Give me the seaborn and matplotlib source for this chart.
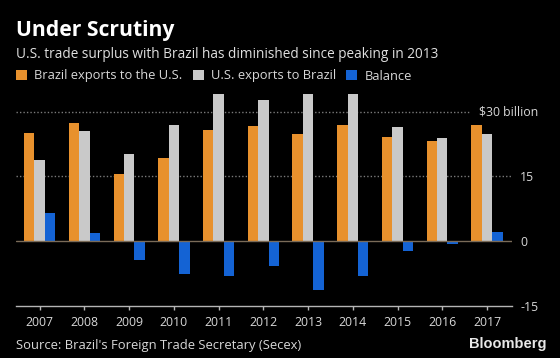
import pandas as pd
import seaborn as sns
import matplotlib.pyplot as plt
import matplotlib.transforms as mtransforms
from matplotlib.patches import Patch

# values in $ billion
years = ['2007', '2008', '2009', '2010', '2011', '2012', '2013', '2014', '2015', '2016', '2017']
brazil_exports = [25.1, 27.4, 15.6, 19.3, 25.8, 26.7, 24.9, 27.0, 24.1, 23.2, 26.9]
us_exports = [18.7, 25.6, 20.1, 27.0, 34.0, 32.7, 36.3, 35.0, 26.5, 23.9, 24.9]
balance = [6.4, 1.8, -4.4, -7.7, -8.2, -5.9, -11.4, -8.0, -2.4, -0.6, 2.0]

series = ['Brazil exports to the U.S.', 'U.S. exports to Brazil', 'Balance']
colors = ['#E8912D', '#C9C9C9', '#1463D4']
yticks = [-15, 0, 15, 30]

df = pd.DataFrame({'year': years, series[0]: brazil_exports,
                   series[1]: us_exports, series[2]: balance})
df = df.melt(id_vars='year', var_name='series', value_name='value')

sns.set_theme(style='ticks', rc={'figure.facecolor': 'black', 'axes.facecolor': 'black',
                                 'savefig.facecolor': 'black'})
plt.rcParams['font.family'] = ['Open Sans', 'DejaVu Sans']
txt = '#d8d8d8'

fig = plt.figure(figsize=(5.6, 3.58), dpi=100)
ax = fig.add_axes([16 / 560, 1 - 305.7 / 358, 496 / 560, 211.7 / 358])

sns.barplot(data=df, x='year', y='value', hue='series', hue_order=series,
            palette=colors, width=0.7, gap=0, saturation=1, legend=False,
            linewidth=0, ax=ax, zorder=3)

ax.set_ylim(-15, 34.1)
ax.set_xlim(-0.53, 10.56)
ax.set_xlabel('')
ax.set_ylabel('')

# grid and zero line
ax.axhline(15, color='#7a7a7a', lw=1, ls=(0, (1, 1.5)), zorder=1)
ax.axhline(30, xmax=(470 - 16) / 496, color='#7a7a7a', lw=1, ls=(0, (1, 1.5)), zorder=1)
ax.axhline(0, color='#7a6b58', lw=1, zorder=4)

for s in ['top', 'left', 'right']:
    ax.spines[s].set_visible(False)
ax.spines['bottom'].set_color('#b5b5b5')
ax.spines['bottom'].set_linewidth(1)

ax.yaxis.tick_right()
ax.set_yticks(yticks)
ax.set_yticklabels(['-15', '0', '15', ''])
ax.tick_params(axis='y', length=0, pad=6, labelsize=8.8, labelcolor=txt)
ax.tick_params(axis='x', length=3, width=1, color='#b5b5b5', pad=4.5,
               labelsize=8.8, labelcolor=txt)
lab_tr = mtransforms.blended_transform_factory(fig.transFigure, ax.transData)
ax.text(538 / 560, 30, '$30 billion', transform=lab_tr,
        ha='right', va='center', fontsize=8.8, color=txt)

fig.text(16 / 560, 1 - 36 / 358, 'Under Scrutiny', fontsize=15.2, fontweight='bold',
         color='white', ha='left', va='baseline')
fig.text(16 / 560, 1 - 58 / 358, 'U.S. trade surplus with Brazil has diminished since peaking in 2013',
         fontsize=9.8, color='#e0e0e0', ha='left', va='baseline')

handles = [Patch(facecolor=c, edgecolor='none') for c in colors]
fig.legend(handles, series, loc='center left', bbox_to_anchor=(16 / 560, 1 - 76 / 358),
           ncol=3, frameon=False, fontsize=9.3, labelcolor=txt,
           handlelength=0.85, handleheight=0.85, handletextpad=0.55,
           columnspacing=0.8, borderpad=0, borderaxespad=0)

fig.text(16 / 560, 1 - 349 / 358, "Source: Brazil's Foreign Trade Secretary (Secex)",
         fontsize=9.4, color=txt, ha='left', va='baseline')
fig.text(546 / 560, 1 - 348 / 358, 'Bloomberg', fontsize=10.5, fontweight='bold',
         family='Liberation Sans', color='#e8e8e8', ha='right', va='baseline')

fig.savefig('out.png', dpi=100)
